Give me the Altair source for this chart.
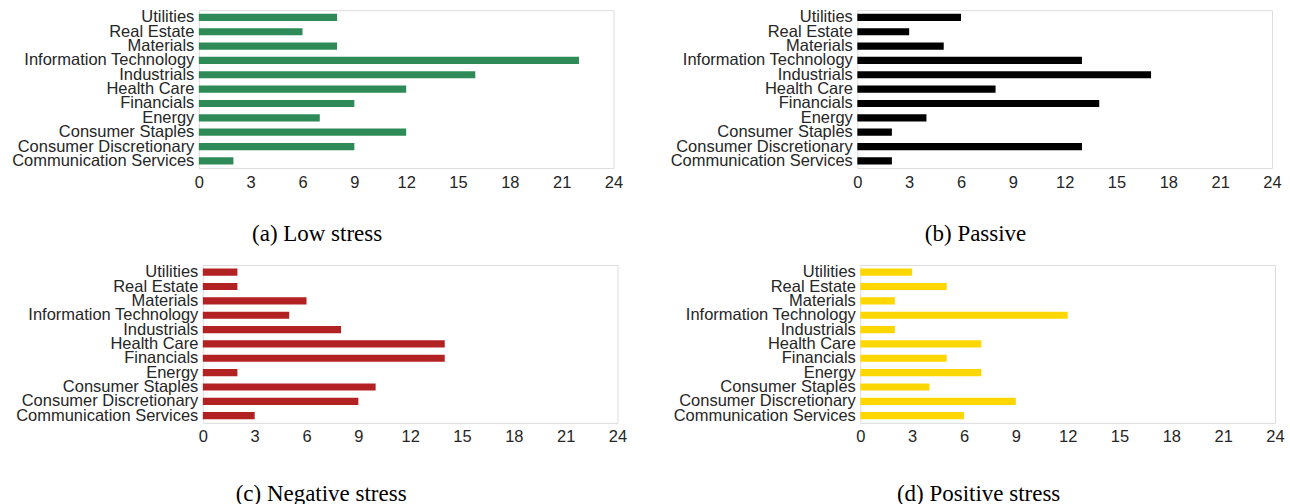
import altair as alt
import pandas as pd

sectors = [
    "Utilities", "Real Estate", "Materials", "Information Technology",
    "Industrials", "Health Care", "Financials", "Energy",
    "Consumer Staples", "Consumer Discretionary", "Communication Services",
]
low_stress = [8, 6, 8, 22, 16, 12, 9, 7, 12, 9, 2]
passive = [6, 3, 5, 13, 17, 8, 14, 4, 2, 13, 2]
negative_stress = [2, 2, 6, 5, 8, 14, 14, 2, 10, 9, 3]
positive_stress = [3, 5, 2, 12, 2, 7, 5, 7, 4, 9, 6]
captions = ["(a) Low stress", "(b) Passive", "(c) Negative stress", "(d) Positive stress"]
colors = ["#2e8b57", "#000000", "#b22222", "#ffd700"]
x_ticks = [0, 3, 6, 9, 12, 15, 18, 21, 24]

LABEL_FONT = "Liberation Sans"
CAPTION_FONT = "Liberation Serif"


def panel(values, color, caption, cap_offset):
    df = pd.DataFrame({"sector": sectors, "count": values})
    return (
        alt.Chart(
            df,
            title=alt.TitleParams(
                caption, orient="bottom", anchor="middle", frame="bounds",
                font=CAPTION_FONT, fontSize=23, fontWeight="normal",
                color="black", offset=cap_offset,
            ),
        )
        .mark_bar(color=color)
        .encode(
            x=alt.X(
                "count:Q",
                scale=alt.Scale(domain=[0, 24], nice=False),
                axis=alt.Axis(
                    values=x_ticks, title=None, grid=False, ticks=False,
                    domain=False, labelFont=LABEL_FONT, labelFontSize=16.5,
                    labelColor="#262626", labelPadding=6, labelFlush=False,
                ),
            ),
            y=alt.Y(
                "sector:N", sort=sectors,
                scale=alt.Scale(paddingInner=0.5, paddingOuter=0.25),
                axis=alt.Axis(
                    title=None, ticks=False, domain=False, grid=False,
                    labelFont=LABEL_FONT, labelFontSize=16.5,
                    labelColor="#262626", labelPadding=5, labelLimit=400,
                ),
            ),
            tooltip=["sector", "count"],
        )
        .properties(width=415, height=158)
    )


def spacer(w):
    return (
        alt.Chart(pd.DataFrame({"v": [0]}))
        .mark_rect(opacity=0)
        .encode(x=alt.value(0), x2=alt.value(w), y=alt.value(0), y2=alt.value(1))
        .properties(width=w, height=1, view=alt.ViewConfig(stroke="transparent"))
    )


a = panel(low_stress, colors[0], captions[0], 32)
b = panel(passive, colors[1], captions[1], 32)
c = panel(negative_stress, colors[2], captions[2], 38)
d = panel(positive_stress, colors[3], captions[3], 38)

row1 = alt.hconcat(alt.hconcat(spacer(1), a, spacing=0), b, spacing=46)
row2 = alt.hconcat(alt.hconcat(spacer(5), c, spacing=0), d, spacing=45)

chart = (
    alt.vconcat(row1, row2, spacing=17)
    .properties(padding={"left": 8, "top": 8, "right": 5, "bottom": 0})
    .configure_view(stroke="#dedede", strokeWidth=1)
    .configure(background="white")
)

chart.save("out.html", embed_options={"renderer": "svg", "actions": False})
